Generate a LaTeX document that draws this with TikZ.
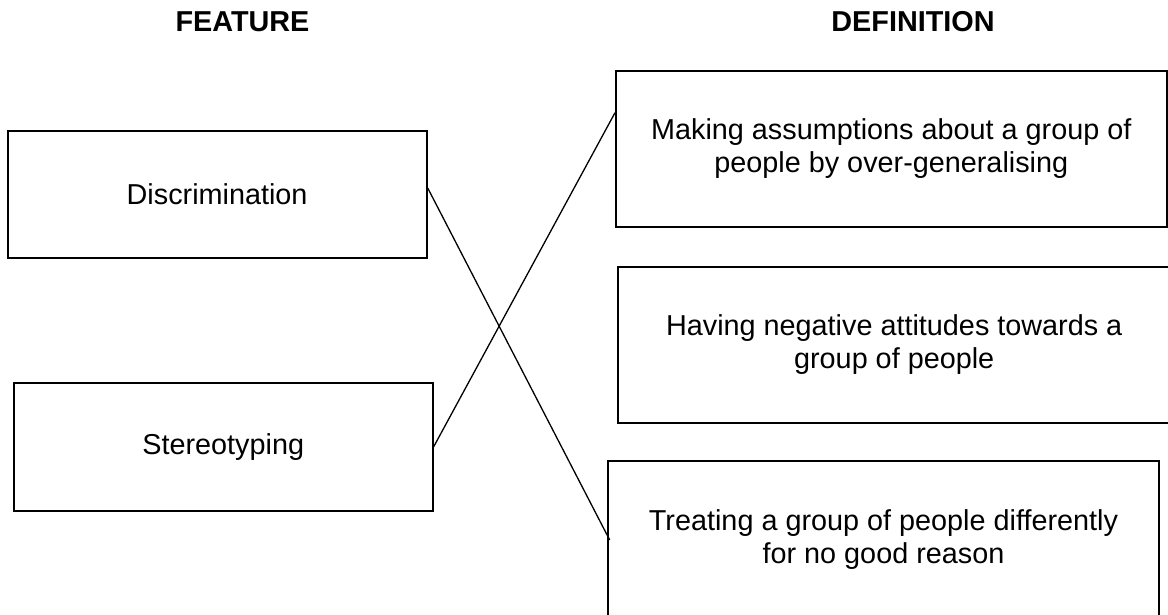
\documentclass[tikz,border=0pt]{standalone}
\usepackage{fontspec}
\setmainfont{Liberation Sans}
\begin{document}
\begin{tikzpicture}[x=1pt,y=-1pt,
  box/.style={draw, line width=2pt, inner sep=0pt, align=center, font=\fontsize{28.8}{33}\selectfont},
  head/.style={font=\bfseries\fontsize{28.8}{33}\selectfont, anchor=base, inner sep=0pt},
  link/.style={line width=1.3pt}]
\useasboundingbox (0,0) rectangle (1168,614);
\node[head] (fh) at (242.5,31) {FEATURE};
\node[head] (dh) at (913,31) {DEFINITION};
\node[box, minimum width=419.2pt, minimum height=127pt] (disc) at (217.1,194.5) {Discrimination};
\node[box, minimum width=419pt, minimum height=128pt] (ster) at (223.2,446.7) {Stereotyping};
\node[box, minimum width=550.7pt, minimum height=155.7pt] (make) at (891.3,148.8) {Making assumptions about a group of\\people by over-generalising};
\node[box, minimum width=551.7pt, minimum height=155.4pt] (have) at (894.2,345) {Having negative attitudes towards a\\group of people};
\node[box, minimum width=551.6pt, minimum height=158pt] (treat) at (883.5,540) {Treating a group of people differently\\for no good reason};
\draw[link] ([yshift=6.5pt]disc.east) -- ([xshift=3pt]treat.west);
\draw[link] (ster.east) -- ([yshift=36pt]make.west);
\end{tikzpicture}
\end{document}
